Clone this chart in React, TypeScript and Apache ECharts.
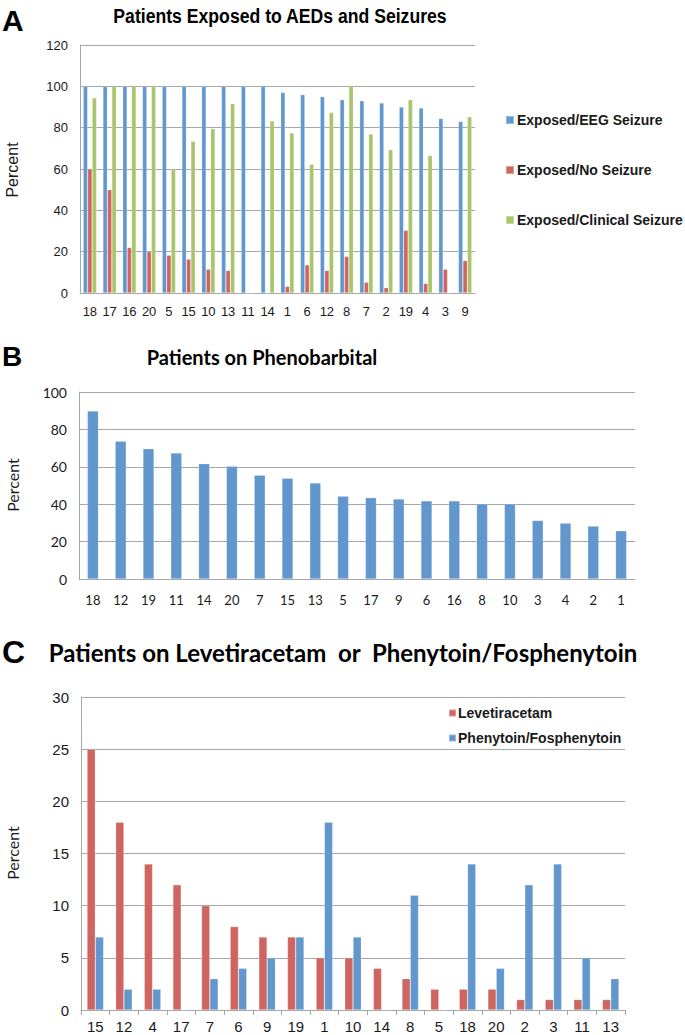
import React, { useEffect, useRef } from "react";
import * as echarts from "echarts";

const catsA = ["18","17","16","20","5","15","10","13","11","14","1","6","12","8","7","2","19","4","3","9"];
const eegA = [100,100,100,100,100,100,100,100,100,100,97,96,95,93.5,93,92,90,89.5,84.5,83];
const noSeizA = [60,50,22,20,18.3,16.4,11.5,10.9,0,0,3.2,13.6,10.9,17.7,5.2,2.6,30.3,4.6,11.5,15.7];
const clinA = [94.4,100,100,100,60,73.5,79.5,91.6,0,83.2,77.5,62.3,87.4,100,76.9,69.3,93.5,66.5,0,85.3];

const catsB = ["18","12","19","11","14","20","7","15","13","5","17","9","6","16","8","10","3","4","2","1"];
const phenoB = [89.8,73.7,69.7,67.4,61.7,60.3,55.5,53.9,51.3,44.3,43.5,42.8,41.8,41.8,40.2,40.2,31.3,29.9,28.3,25.8];

const catsC = ["15","12","4","17","7","6","9","19","1","10","14","8","5","18","20","2","3","11","13"];
const levC = [25,18,14,12,10,8,7,7,5,5,4,3,2,2,2,1,1,1,1];
const phenyC = [7,2,2,0,3,4,5,7,18,7,0,11,0,14,4,12,14,5,3];

const BLUE = "#6197cd";
const RED = "#cf6560";
const GREEN = "#a8c56a";
const GRIDC = "#a6a6a6";
const ARIAL = "'Liberation Sans', Arial, sans-serif";
const CAL = "Lato, 'Open Sans', sans-serif";

export default function App() {
  const ref = useRef<HTMLDivElement>(null);
  useEffect(() => {
    const chart = echarts.init(ref.current!, null, { renderer: "svg" });
    const axisLine = { show: true, lineStyle: { color: GRIDC, width: 1 } };
    const splitLine = { show: true, lineStyle: { color: GRIDC, width: 1 } };
    const bar = (name: string, data: number[], color: string, idx: number, gap: string) => ({
      name,
      type: "bar",
      xAxisIndex: idx,
      yAxisIndex: idx,
      data,
      barGap: "0%",
      barCategoryGap: gap,
      itemStyle: { color, borderColor: "rgba(255,255,255,0.35)", borderWidth: 0.6 },
    });
    chart.setOption({
      animation: false,
      backgroundColor: "#fff",
      grid: [
        { left: 80, top: 45, width: 395, height: 248 },
        { left: 79, top: 392, width: 556, height: 187 },
        { left: 81, top: 697, width: 544, height: 313 },
      ],
      xAxis: [
        {
          type: "category", gridIndex: 0, data: catsA, axisLine, axisTick: { show: false },
          axisLabel: { color: "#1a1a1a", fontFamily: ARIAL, fontSize: 13, margin: 12, interval: 0 },
        },
        {
          type: "category", gridIndex: 1, data: catsB, axisLine, axisTick: { show: false },
          axisLabel: { color: "#1a1a1a", fontFamily: CAL, fontSize: 13, margin: 14, interval: 0 },
        },
        {
          type: "category", gridIndex: 2, data: catsC, axisLine,
          axisTick: { show: true, length: 5, lineStyle: { color: GRIDC } },
          axisLabel: { color: "#1a1a1a", fontFamily: ARIAL, fontSize: 15, margin: 9, interval: 0 },
        },
      ],
      yAxis: [
        {
          type: "value", gridIndex: 0, min: 0, max: 120, interval: 20, axisLine, splitLine,
          axisLabel: { color: "#1a1a1a", fontFamily: ARIAL, fontSize: 13, margin: 12 },
        },
        {
          type: "value", gridIndex: 1, min: 0, max: 100, interval: 20, axisLine, splitLine,
          axisLabel: { color: "#1a1a1a", fontFamily: CAL, fontSize: 14, margin: 12 },
        },
        {
          type: "value", gridIndex: 2, min: 0, max: 30, interval: 5, axisLine, splitLine,
          axisLabel: { color: "#1a1a1a", fontFamily: ARIAL, fontSize: 15, margin: 12 },
        },
      ],
      legend: [
        {
          data: ["Exposed/EEG Seizure", "Exposed/No Seizure", "Exposed/Clinical Seizure"],
          orient: "vertical", left: 500, top: 108, itemGap: 36, itemWidth: 8, itemHeight: 8,
          icon: "rect",
          textStyle: { fontFamily: ARIAL, fontWeight: "bold", fontSize: 14, color: "#1a1a1a", padding: [0, 0, 0, -2] },
        },
        {
          data: ["Levetiracetam", "Phenytoin/Fosphenytoin"],
          orient: "vertical", left: 443, top: 701, itemGap: 11, itemWidth: 7, itemHeight: 7,
          icon: "rect",
          textStyle: { fontFamily: ARIAL, fontWeight: "bold", fontSize: 14, color: "#1a1a1a", padding: [0, 0, 0, -3] },
        },
      ],
      series: [
        bar("Exposed/EEG Seizure", eegA, BLUE, 0, "32%"),
        bar("Exposed/No Seizure", noSeizA, RED, 0, "32%"),
        bar("Exposed/Clinical Seizure", clinA, GREEN, 0, "32%"),
        bar("Phenobarbital", phenoB, BLUE, 1, "60%"),
        bar("Levetiracetam", levC, RED, 2, "42%"),
        bar("Phenytoin/Fosphenytoin", phenyC, BLUE, 2, "42%"),
      ],
      graphic: [
        { type: "text", x: 2, y: 5, style: { text: "A", font: `bold 30px ${ARIAL}`, fill: "#000" } },
        { type: "text", x: 280, y: 15, scaleX: 0.84, style: { text: "Patients Exposed to AEDs and Seizures", font: `bold 21px ${ARIAL}`, fill: "#000", textAlign: "center", textVerticalAlign: "middle" } },
        { type: "text", x: 12, y: 170, rotation: Math.PI / 2, style: { text: "Percent", font: `16px ${ARIAL}`, fill: "#1a1a1a", textAlign: "center", textVerticalAlign: "middle" } },
        { type: "text", x: 2, y: 342, style: { text: "B", font: `bold 28px ${ARIAL}`, fill: "#000" } },
        { type: "text", x: 262, y: 357, style: { text: "Patients on Phenobarbital", font: `bold 20px ${CAL}`, fill: "#000", textAlign: "center", textVerticalAlign: "middle" } },
        { type: "text", x: 12, y: 485, rotation: Math.PI / 2, style: { text: "Percent", font: `16px ${CAL}`, fill: "#1a1a1a", textAlign: "center", textVerticalAlign: "middle" } },
        { type: "text", x: 2, y: 636, style: { text: "C", font: `bold 32px ${ARIAL}`, fill: "#000" } },
        { type: "text", x: 343, y: 652, style: { text: "Patients on Levetiracetam  or  Phenytoin/Fosphenytoin", font: `bold 24px ${CAL}`, fill: "#000", textAlign: "center", textVerticalAlign: "middle" } },
        { type: "text", x: 12, y: 853, rotation: Math.PI / 2, style: { text: "Percent", font: `16px ${CAL}`, fill: "#1a1a1a", textAlign: "center", textVerticalAlign: "middle" } },
      ],
    });
    return () => chart.dispose();
  }, []);
  return <div ref={ref} style={{ position: "absolute", left: 0, top: 0, width: 685, height: 1035 }} />;
}
